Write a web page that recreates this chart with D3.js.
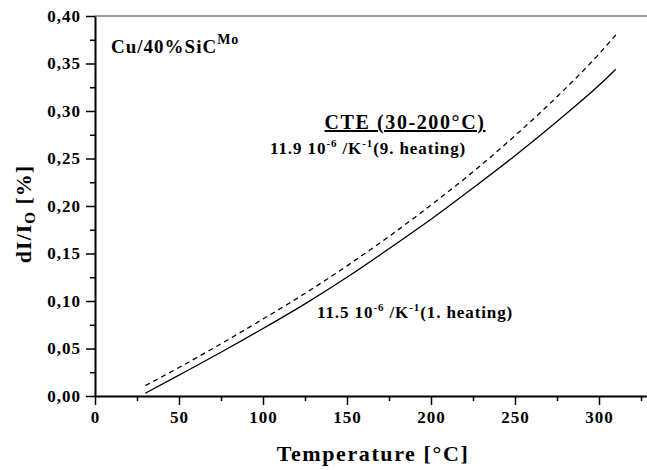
<!DOCTYPE html>
<html>
<head>
<meta charset="utf-8">
<script src="https://cdn.jsdelivr.net/npm/d3@7"></script>
<style>
  body { margin: 0; background: #fff; }
  text { font-family: "Liberation Serif", "Times New Roman", serif; font-weight: bold; fill: #000; }
</style>
</head>
<body>
<div id="chart-area"></div>
<script>
const temps = [30, 50, 75, 100, 125, 150, 175, 200, 225, 250, 275, 300, 310];
const heating1 = [0.003, 0.022, 0.046, 0.071, 0.097, 0.125, 0.155, 0.186, 0.219, 0.253, 0.289, 0.327, 0.344];
const heating9 = [0.011, 0.030, 0.055, 0.081, 0.108, 0.137, 0.168, 0.201, 0.236, 0.274, 0.315, 0.360, 0.380];
const xTicks = [0, 50, 100, 150, 200, 250, 300];
const xMinor = [25, 75, 125, 175, 225, 275, 325];
const yTicks = [0, 0.05, 0.10, 0.15, 0.20, 0.25, 0.30, 0.35, 0.40];
const yMinor = [0.025, 0.075, 0.125, 0.175, 0.225, 0.275, 0.325, 0.375];

const width = 647, height = 470;
const svg = d3.select("#chart-area").append("svg")
    .attr("width", width)
    .attr("height", height);

const plotLeft = 95, plotRight = 647, plotTop = 16, plotBottom = 396;

const x = d3.scaleLinear().domain([0, (plotRight - plotLeft) / 1.68]).range([plotLeft, plotRight]);
const y = d3.scaleLinear().domain([0, 0.40]).range([plotBottom, plotTop]);

const fmt = d => d3.format(".2f")(d).replace(".", ",");

// top frame line
svg.append("line")
    .attr("x1", plotLeft).attr("x2", plotRight)
    .attr("y1", plotTop).attr("y2", plotTop)
    .attr("stroke", "#777").attr("stroke-width", 1.5);

// minor ticks
svg.append("g")
    .attr("transform", `translate(${plotLeft},0)`)
    .call(d3.axisLeft(y).tickValues(yMinor).tickSize(5).tickFormat(""))
    .call(g => g.select(".domain").remove())
    .selectAll("line").attr("stroke-width", 1.5);
svg.append("g")
    .attr("transform", `translate(0,${plotBottom})`)
    .call(d3.axisBottom(x).tickValues(xMinor).tickSize(5).tickFormat(""))
    .call(g => g.select(".domain").remove())
    .selectAll("line").attr("stroke-width", 1.5);

// major axes
const yAxis = svg.append("g")
    .attr("transform", `translate(${plotLeft},0)`)
    .call(d3.axisLeft(y).tickValues(yTicks).tickSize(9).tickPadding(5).tickFormat(fmt).tickSizeOuter(0));
yAxis.select(".domain").attr("stroke-width", 2);
yAxis.selectAll("line").attr("stroke-width", 1.5);
yAxis.selectAll("text").attr("font-size", 17).attr("letter-spacing", 1)
    .style("font-family", "'Liberation Serif', serif").style("font-weight", "bold");

const xAxis = svg.append("g")
    .attr("transform", `translate(0,${plotBottom})`)
    .call(d3.axisBottom(x).tickValues(xTicks).tickSize(9).tickPadding(6).tickSizeOuter(0));
xAxis.select(".domain").attr("stroke-width", 2);
xAxis.selectAll("line").attr("stroke-width", 1.5);
xAxis.selectAll("text").attr("font-size", 17).attr("letter-spacing", 1)
    .style("font-family", "'Liberation Serif', serif").style("font-weight", "bold");

// curves
const line = d3.line().x(d => x(d[0])).y(d => y(d[1])).curve(d3.curveMonotoneX);
svg.append("path")
    .datum(temps.map((t, i) => [t, heating1[i]]))
    .attr("fill", "none").attr("stroke", "#000").attr("stroke-width", 1.3)
    .attr("d", line);
svg.append("path")
    .datum(temps.map((t, i) => [t, heating9[i]]))
    .attr("fill", "none").attr("stroke", "#000").attr("stroke-width", 1.3)
    .attr("stroke-dasharray", "5,4")
    .attr("d", line);

// axis titles
svg.append("text")
    .attr("x", 373).attr("y", 461)
    .attr("text-anchor", "middle")
    .attr("font-size", 22).attr("letter-spacing", 1.6)
    .text("Temperature [°C]");

const yt = svg.append("text")
    .attr("transform", "translate(31,214) rotate(-90)")
    .attr("text-anchor", "middle")
    .attr("font-size", 22).attr("letter-spacing", 1);
yt.append("tspan").text("dI/I");
yt.append("tspan").attr("font-size", 15).attr("dy", 4).text("O");
yt.append("tspan").attr("dy", -4).text(" [%]");

// annotations
const cu = svg.append("text").attr("x", 111).attr("y", 53).attr("font-size", 19).attr("letter-spacing", 1);
cu.append("tspan").text("Cu/40%SiC");
cu.append("tspan").attr("font-size", 14).attr("dy", -9).text("Mo");

svg.append("text")
    .attr("x", 405).attr("y", 129)
    .attr("text-anchor", "middle")
    .attr("font-size", 20).attr("letter-spacing", 1.6)
    .attr("text-decoration", "underline")
    .text("CTE (30-200°C)");

function cteLabel(xp, yp, value, run) {
    const t = svg.append("text").attr("x", xp).attr("y", yp).attr("font-size", 17).attr("letter-spacing", 0.9);
    t.append("tspan").text(value + " 10");
    t.append("tspan").attr("font-size", 11).attr("dy", -7).text("-6");
    t.append("tspan").attr("dy", 7).text(" /K");
    t.append("tspan").attr("font-size", 11).attr("dy", -7).text("-1");
    t.append("tspan").attr("dy", 7).text("(" + run + ". heating)");
}
cteLabel(270, 154, "11.9", 9);
cteLabel(317, 318, "11.5", 1);
</script>
</body>
</html>
